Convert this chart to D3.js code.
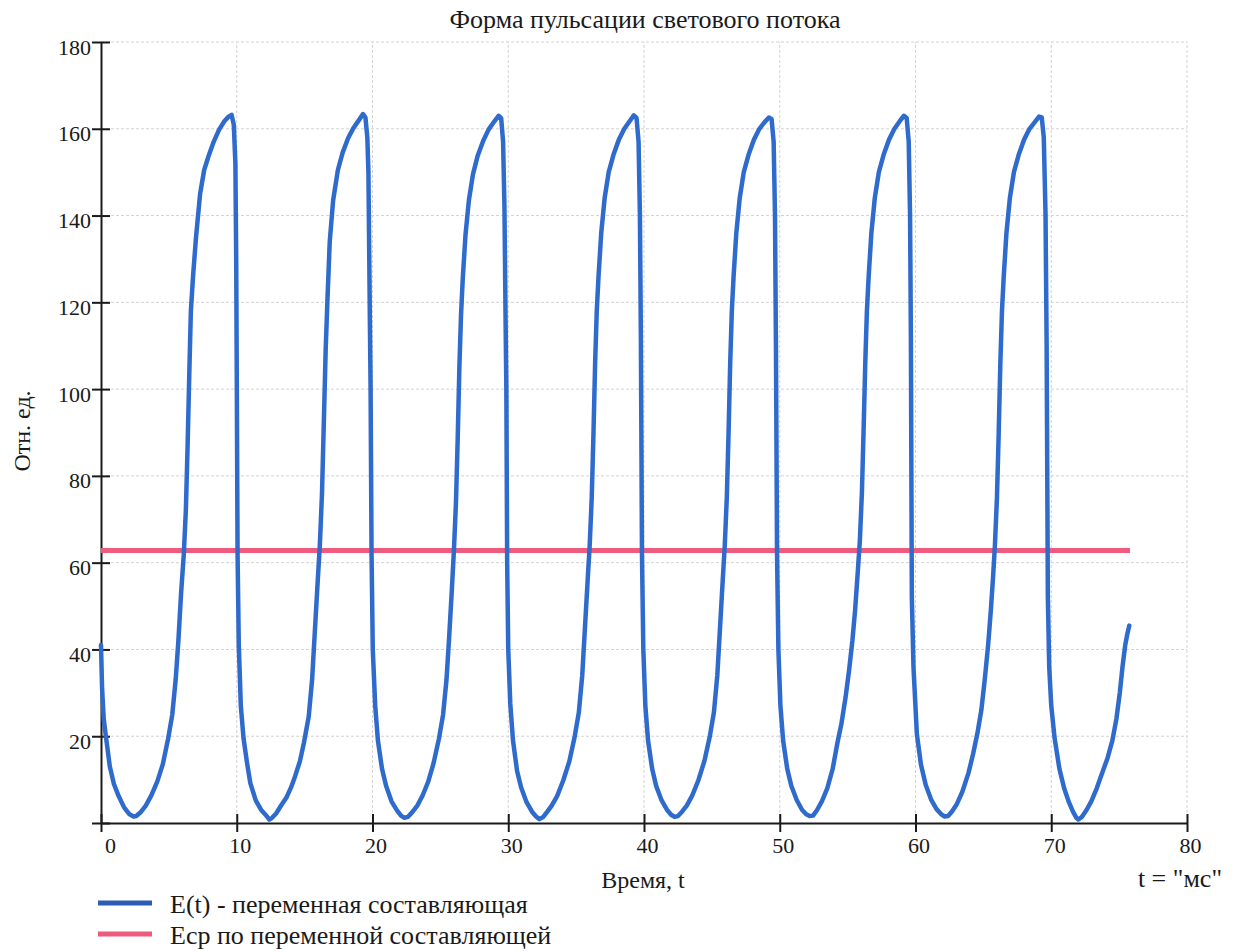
<!DOCTYPE html>
<html>
<head>
<meta charset="utf-8">
<script src="https://cdn.jsdelivr.net/npm/d3@7"></script>
<style>
  body { margin: 0; background: #fff; }
</style>
</head>
<body>
<svg id="chart" width="1235" height="952"></svg>
<script>
const title = "Форма пульсации светового потока";
const xLabel = "Время, t";
const unitLabel = 't = "мс"';
const yLabel = "Отн. ед.";
const legendLabels = ["E(t) - переменная составляющая", "Еср по переменной составляющей"];

const xTicks = [0, 10, 20, 30, 40, 50, 60, 70, 80];
const yTicks = [0, 20, 40, 60, 80, 100, 120, 140, 160, 180];

// mean of the variable component, drawn over the measured span
const meanValue = 62.8;
const meanSpan = [0, 75.8];

// E(t): [t ms, relative units]
const pulse = [
  [0, 41], [0.08, 31], [0.2, 24], [0.4, 19], [0.65, 13], [0.95, 9], [1.3, 6.2], [1.7, 3.6], [2.1, 2.0], [2.4, 1.5], [2.6, 1.6], [2.9, 2.4], [3.3, 4.0], [3.7, 6.3], [4.15, 9.6], [4.55, 13.5], [4.95, 19.5], [5.25, 25], [5.5, 33], [5.7, 42], [5.9, 53], [6.1, 62], [6.25, 72], [6.38, 87], [6.5, 103], [6.62, 118], [6.78, 126], [7.0, 135], [7.3, 145], [7.6, 150.5], [7.9, 153.5], [8.3, 157], [8.7, 159.8], [9.1, 161.8], [9.4, 162.8], [9.62, 163.2], [9.78, 161], [9.9, 152], [9.96, 130], [10.0, 104],
  [10.06, 62], [10.15, 41], [10.3, 27], [10.5, 19.5], [10.75, 14], [11.0, 9.2], [11.4, 5.2], [11.8, 3.0], [12.15, 1.8], [12.4, 0.8], [12.6, 1.2], [12.9, 2.2], [13.3, 4.2], [13.65, 5.8], [14.0, 8.2], [14.3, 10.8], [14.65, 14.2], [14.95, 18.5], [15.3, 24.5], [15.55, 33], [15.75, 44], [15.95, 55], [16.12, 64], [16.28, 76], [16.42, 93], [16.55, 109], [16.68, 120.5], [16.85, 134], [17.1, 143.5], [17.45, 150.5], [17.8, 154.5], [18.2, 157.8], [18.6, 160.2], [19.0, 162], [19.3, 163.4], [19.48, 162.6], [19.62, 158], [19.7, 150], [19.8, 118], [19.86, 100],
  [19.93, 62], [20.02, 40], [20.2, 27], [20.4, 19], [20.7, 12.5], [21.0, 8.6], [21.4, 5.0], [21.8, 2.9], [22.1, 1.7], [22.35, 1.2], [22.6, 1.4], [22.9, 2.4], [23.3, 4.0], [23.7, 6.4], [24.1, 9.5], [24.5, 13.8], [24.9, 19.5], [25.2, 25], [25.45, 33], [25.65, 43], [25.85, 54], [26.0, 63], [26.15, 74], [26.28, 89], [26.4, 105], [26.52, 117], [26.65, 125.5], [26.85, 135.5], [27.1, 143.5], [27.4, 149.5], [27.75, 153.8], [28.15, 157.2], [28.55, 159.8], [28.95, 161.6], [29.3, 163], [29.48, 162.4], [29.62, 157], [29.72, 142], [29.8, 117], [29.86, 100],
  [29.92, 60], [30.0, 40], [30.15, 27.5], [30.35, 19], [30.65, 12], [30.95, 8.2], [31.35, 4.8], [31.75, 2.6], [32.05, 1.5], [32.3, 0.9], [32.55, 1.3], [32.85, 2.5], [33.2, 4.0], [33.6, 6.2], [34.05, 9.8], [34.5, 14.2], [34.9, 20], [35.2, 25.5], [35.45, 34], [35.65, 45], [35.85, 56], [36.0, 64], [36.15, 75], [36.28, 90], [36.4, 106], [36.52, 118], [36.65, 126], [36.85, 136], [37.1, 144], [37.4, 150], [37.75, 154], [38.15, 157.5], [38.55, 160], [38.95, 161.8], [39.25, 163.1], [39.45, 162.5], [39.6, 157], [39.7, 140], [39.77, 112],
  [39.85, 62], [39.95, 40], [40.1, 27], [40.3, 19], [40.6, 12.5], [40.9, 8.5], [41.3, 5.2], [41.7, 3.0], [42.0, 1.9], [42.25, 1.4], [42.5, 1.6], [42.8, 2.6], [43.15, 4.0], [43.55, 6.3], [44.0, 9.8], [44.45, 14.3], [44.85, 20], [45.15, 25.5], [45.4, 34], [45.6, 45], [45.8, 56], [45.95, 64], [46.1, 75], [46.23, 90], [46.35, 106], [46.47, 118], [46.6, 126], [46.8, 136], [47.05, 144], [47.35, 150], [47.7, 154], [48.1, 157.5], [48.5, 160], [48.9, 161.6], [49.2, 162.6], [49.4, 162.2], [49.55, 157], [49.65, 140], [49.72, 110],
  [49.8, 62], [49.9, 40], [50.05, 27], [50.25, 19], [50.55, 12.5], [50.85, 8.6], [51.25, 5.3], [51.65, 3.0], [51.95, 2.0], [52.2, 1.6], [52.45, 1.7], [52.75, 3.0], [53.1, 5.0], [53.5, 8.0], [53.9, 12.5], [54.25, 18.5], [54.55, 23], [54.85, 29], [55.1, 35], [55.35, 42], [55.55, 49], [55.75, 58], [55.9, 65], [56.05, 76], [56.18, 91], [56.3, 106], [56.42, 118], [56.55, 126], [56.75, 136], [57.0, 144], [57.3, 150], [57.65, 154], [58.05, 157.5], [58.45, 160], [58.85, 161.8], [59.15, 163], [59.35, 162.5], [59.5, 157], [59.6, 140], [59.66, 112],
  [59.73, 52], [59.85, 36], [60.1, 20.5], [60.4, 13.5], [60.75, 8.8], [61.15, 5.4], [61.55, 3.2], [61.9, 2.0], [62.15, 1.5], [62.4, 1.6], [62.7, 2.7], [63.05, 4.4], [63.45, 7.2], [63.9, 11.5], [64.25, 16], [64.55, 20.5], [64.85, 26], [65.1, 33], [65.35, 41], [65.55, 49], [65.72, 57], [65.85, 64], [66.0, 75], [66.13, 90], [66.25, 106], [66.37, 118], [66.5, 126], [66.7, 136], [66.95, 144], [67.25, 150], [67.6, 154], [68.0, 157.5], [68.4, 160], [68.8, 161.6], [69.1, 162.8], [69.3, 162.6], [69.45, 158], [69.58, 140], [69.66, 110],
  [69.75, 52], [69.85, 36], [70.0, 27], [70.25, 19.5], [70.6, 12.5], [70.95, 8.0], [71.3, 4.8], [71.6, 2.6], [71.85, 1.2], [72.0, 0.8], [72.25, 1.4], [72.6, 3.0], [72.95, 5.0], [73.35, 8.0], [73.75, 11.5], [74.15, 15], [74.5, 19], [74.8, 24], [75.05, 30], [75.25, 36], [75.45, 41], [75.6, 43.5], [75.75, 45.5]
];

const fontFamily = "'Liberation Serif', 'Times New Roman', serif";

const svg = d3.select("#chart")
    .attr("font-family", fontFamily);

const x = d3.scaleLinear().domain([0, 80]).range([101, 1187]);
const y = d3.scaleLinear().domain([0, 180]).range([823, 42]);

// grid
const grid = svg.append("g")
    .attr("stroke", "#d2d2d2")
    .attr("stroke-width", 1)
    .attr("stroke-dasharray", "3,2");

grid.selectAll(".h")
  .data(yTicks.filter(d => d > 0))
  .join("line")
    .attr("x1", x(0))
    .attr("x2", x(80))
    .attr("y1", d => y(d))
    .attr("y2", d => y(d));

grid.selectAll(".v")
  .data(xTicks.filter(d => d > 0))
  .join("line")
    .attr("x1", d => x(d))
    .attr("x2", d => x(d))
    .attr("y1", y(0))
    .attr("y2", y(180));

// axes
const xAxis = svg.append("g")
    .attr("transform", `translate(0,${y(0)})`)
    .call(d3.axisBottom(x).tickValues(xTicks).tickSizeOuter(0));

const yAxis = svg.append("g")
    .attr("transform", `translate(${x(0)},0)`)
    .call(d3.axisLeft(y).tickValues(yTicks).tickSizeOuter(0));

[xAxis, yAxis].forEach(g => {
  g.attr("font-family", fontFamily).attr("font-size", 22);
  g.select(".domain").attr("stroke", "#1a1a1a").attr("stroke-width", 2);
  g.selectAll(".tick line").attr("stroke", "#1a1a1a").attr("stroke-width", 2);
  g.selectAll(".tick text").attr("fill", "#1a1a1a");
});

xAxis.selectAll(".tick line").attr("y1", -9).attr("y2", 9);
xAxis.selectAll(".tick text")
    .attr("y", 30)
    .attr("dy", null)
    .attr("dx", d => d === 0 ? 9 : 3);

yAxis.selectAll(".tick line").attr("x1", -9).attr("x2", 9);
yAxis.selectAll(".tick text")
    .attr("x", -10)
    .attr("dy", null)
    .attr("y", 12);
yAxis.selectAll(".tick").filter(d => d === 0).select("text").remove();

// mean line
const line = d3.line()
    .x(d => x(d[0]))
    .y(d => y(d[1]));

svg.append("path")
    .datum(meanSpan.map(t => [t, meanValue]))
    .attr("fill", "none")
    .attr("stroke", "#ef5b7c")
    .attr("stroke-width", 5)
    .attr("d", line);

// pulse curve
svg.append("path")
    .datum(pulse)
    .attr("fill", "none")
    .attr("stroke", "#2f6bcc")
    .attr("stroke-width", 4.5)
    .attr("stroke-linejoin", "round")
    .attr("stroke-linecap", "round")
    .attr("d", line);

// texts
svg.append("text")
    .attr("x", 645)
    .attr("y", 28)
    .attr("text-anchor", "middle")
    .attr("font-size", 26)
    .attr("fill", "#1a1a1a")
    .text(title);

svg.append("text")
    .attr("x", 643)
    .attr("y", 888)
    .attr("text-anchor", "middle")
    .attr("font-size", 24)
    .attr("fill", "#1a1a1a")
    .text(xLabel);

svg.append("text")
    .attr("x", 1222)
    .attr("y", 887)
    .attr("text-anchor", "end")
    .attr("font-size", 26)
    .attr("fill", "#1a1a1a")
    .text(unitLabel);

svg.append("text")
    .attr("transform", "translate(30,431) rotate(-90)")
    .attr("text-anchor", "middle")
    .attr("font-size", 24)
    .attr("fill", "#1a1a1a")
    .text(yLabel);

// legend
const legendColors = ["#2b5db5", "#ef5b7c"];
const legend = svg.append("g")
  .selectAll("g")
  .data(legendLabels)
  .join("g")
    .attr("transform", (d, i) => `translate(98,${903 + i * 31})`);

legend.append("line")
    .attr("x1", 0)
    .attr("x2", 54)
    .attr("stroke", (d, i) => legendColors[i])
    .attr("stroke-width", 5);

legend.append("text")
    .attr("x", 72)
    .attr("y", 10)
    .attr("font-size", 26)
    .attr("fill", "#1a1a1a")
    .text(d => d);
</script>
</body>
</html>
